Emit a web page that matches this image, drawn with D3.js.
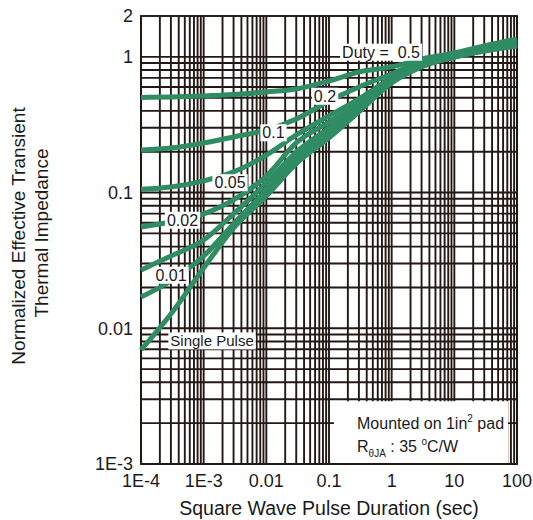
<!DOCTYPE html>
<html>
<head>
<meta charset="utf-8">
<script src="https://cdn.jsdelivr.net/npm/d3@7"></script>
<style>
  body { margin: 0; background: #fff; }
  text { font-family: Arial, "Liberation Sans", Helvetica, sans-serif; fill: #1a1a1a; }
</style>
</head>
<body>
<div id="chart"></div>
<script>
const pulseTimes = [1e-4, 3e-4, 1e-3, 3e-3, 0.01, 0.03, 0.1, 0.3, 1, 3, 10, 30, 100];

// normalized transient impedance for each duty cycle
const duty05 = [0.502, 0.506, 0.515, 0.528, 0.551, 0.580, 0.664, 0.774, 0.843, 0.965, 1.068, 1.203, 1.355];
const duty02 = [0.206, 0.213, 0.232, 0.257, 0.289, 0.348, 0.473, 0.600, 0.748, 0.917, 1.033, 1.163, 1.310];
const duty01 = [0.106, 0.110, 0.122, 0.142, 0.189, 0.266, 0.367, 0.490, 0.699, 0.886, 1.015, 1.144, 1.266];
const duty005 = [0.0558, 0.0607, 0.0696, 0.0882, 0.1325, 0.232, 0.331, 0.457, 0.676, 0.872, 1.015, 1.124, 1.245];
const duty002 = [0.0269, 0.0341, 0.0447, 0.0696, 0.1177, 0.199, 0.299, 0.435, 0.664, 0.857, 0.998, 1.124, 1.224];
const duty001 = [0.0170, 0.0223, 0.0341, 0.0587, 0.1045, 0.180, 0.275, 0.413, 0.653, 0.857, 0.998, 1.105, 1.224];
const singlePulse = [0.00692, 0.01274, 0.0278, 0.0548, 0.0944, 0.163, 0.253, 0.393, 0.642, 0.843, 0.998, 1.105, 1.203];

const allCurves = [duty05, duty02, duty01, duty005, duty002, duty001, singlePulse];

// tick labels
const xTickValues = [1e-4, 1e-3, 0.01, 0.1, 1, 10, 100];
const xTickLabels = ["1E-4", "1E-3", "0.01", "0.1", "1", "10", "100"];
const yTickValues = [1e-3, 0.01, 0.1, 1, 2];
const yTickLabels = ["1E-3", "0.01", "0.1", "1", "2"];

// curve labels, anchored in data coordinates (pulse time, impedance)
const curveLabels = [
  { text: "Duty =  0.5", t: 0.676, z: 1.087 },
  { text: "0.2", t: 0.0863, z: 0.515 },
  { text: "0.1", t: 0.0130, z: 0.277 },
  { text: "0.05", t: 0.00263, z: 0.1187 },
  { text: "0.02", t: 4.59e-4, z: 0.0628 },
  { text: "0.01", t: 3.01e-4, z: 0.0247 },
  { text: "Single Pulse", t: 1.36e-3, z: 0.00806 }
];

const width = 533, height = 520;
const margin = { top: 16, right: 16, bottom: 56, left: 141 };
const plotW = width - margin.left - margin.right,
      plotH = height - margin.top - margin.bottom;
const gridColor = "#231815", curveColor = "#2f8c63";

let svg = d3.select("#chart")
            .append("svg")
            .attr("width", width)
            .attr("height", height);
let g = svg.append("g")
           .attr("transform", `translate(${margin.left},${margin.top})`);

let x = d3.scaleLog().domain([1e-4, 100]).range([0, plotW]);
let y = d3.scaleLog().domain([1e-3, 2]).range([plotH, 0]);

// grid: every 1..9 multiple in each decade
let gridX = x.ticks();
let gridY = y.ticks().filter(function(d) { return d <= 1.0001; });

g.append("g").selectAll("line")
 .data(gridX).enter().append("line")
 .attr("x1", d => x(d)).attr("x2", d => x(d))
 .attr("y1", 0).attr("y2", plotH)
 .style("stroke", gridColor).style("stroke-width", 1.9);

g.append("g").selectAll("line")
 .data(gridY).enter().append("line")
 .attr("x1", 0).attr("x2", plotW)
 .attr("y1", d => y(d)).attr("y2", d => y(d))
 .style("stroke", gridColor).style("stroke-width", 1.9);

// frame
g.append("rect")
 .attr("width", plotW).attr("height", plotH)
 .style("fill", "none").style("stroke", gridColor).style("stroke-width", 1.9);

// note box (bottom right)
let note = g.append("g");
note.append("rect")
    .attr("x", x(0.12)).attr("y", y(0.0029))
    .attr("width", x(72) - x(0.12)).attr("height", plotH - y(0.0029) - 1)
    .style("fill", "#fff");
let n1 = note.append("text")
    .attr("x", x(0.28)).attr("y", y(0.00182))
    .style("font-size", "16px");
n1.append("tspan").text("Mounted on 1in");
n1.append("tspan").attr("dy", -7).style("font-size", "10px").text("2");
n1.append("tspan").attr("dy", 7).text(" pad");
let n2 = note.append("text")
    .attr("x", x(0.28)).attr("y", y(0.00122))
    .style("font-size", "16px");
n2.append("tspan").text("R");
n2.append("tspan").attr("dy", 5).style("font-size", "10px").text("\u03b8JA");
n2.append("tspan").attr("dy", -5).text(" : 35 ");
n2.append("tspan").attr("dy", -7).style("font-size", "10px").text("o");
n2.append("tspan").attr("dy", 7).text("C/W");

// curves
let line = d3.line()
             .x((d, i) => x(pulseTimes[i]))
             .y(d => y(d))
             .curve(d3.curveMonotoneX);

g.append("g").selectAll("path")
 .data(allCurves).enter().append("path")
 .attr("d", d => line(d))
 .style("fill", "none")
 .style("stroke", curveColor)
 .style("stroke-width", 5)
 .style("stroke-linecap", "butt");

// labels with white backing
let lab = g.append("g").selectAll("g")
           .data(curveLabels).enter().append("g")
           .attr("transform", d => `translate(${x(d.t)},${y(d.z)})`);
let labText = lab.append("text")
                 .attr("text-anchor", "middle")
                 .attr("dy", "0.36em")
                 .style("white-space", "pre")
                 .style("font-size", function(d) { return d.text === "Single Pulse" ? "15px" : "16px"; })
                 .text(d => d.text);
labText.each(function() {
  let bb = this.getBBox();
  d3.select(this.parentNode).insert("rect", "text")
    .attr("x", bb.x - 2).attr("y", bb.y)
    .attr("width", bb.width + 4).attr("height", bb.height)
    .style("fill", "#fff");
});

// tick labels
g.append("g").selectAll("text")
 .data(xTickValues).enter().append("text")
 .attr("x", d => x(d)).attr("y", plotH + 23)
 .attr("text-anchor", "middle")
 .style("font-size", "18px")
 .text((d, i) => xTickLabels[i]);

g.append("g").selectAll("text")
 .data(yTickValues).enter().append("text")
 .attr("x", -8).attr("y", d => y(d))
 .attr("dy", "0.36em")
 .attr("text-anchor", "end")
 .style("font-size", "18px")
 .text((d, i) => yTickLabels[i]);

// axis titles
svg.append("text")
   .attr("x", margin.left + plotW / 2).attr("y", 515)
   .attr("text-anchor", "middle")
   .style("font-size", "19.5px")
   .text("Square Wave Pulse Duration (sec)");

svg.append("text")
   .attr("transform", "translate(25,236) rotate(-90)")
   .attr("text-anchor", "middle")
   .style("font-size", "19px")
   .text("Normalized Effective Transient");
svg.append("text")
   .attr("transform", "translate(48,233) rotate(-90)")
   .attr("text-anchor", "middle")
   .style("font-size", "19px")
   .text("Thermal Impedance");
</script>
</body>
</html>
